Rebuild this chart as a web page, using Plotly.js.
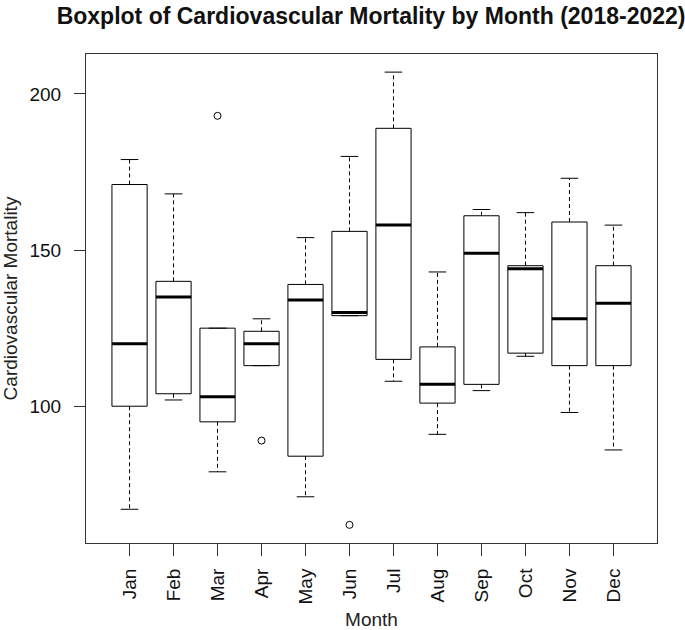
<!DOCTYPE html>
<html>
<head>
<meta charset="utf-8">
<script src="https://cdn.plot.ly/plotly-3.0.1.min.js"></script>
<style>html,body{margin:0;padding:0;background:#fff;}#chart{width:685px;height:630px;}</style>
</head>
<body>
<div id="chart"></div>
<script>
// Data
var months = ["Jan","Feb","Mar","Apr","May","Jun","Jul","Aug","Sep","Oct","Nov","Dec"];
var lowerWhisker = [67, 102, 79, 113, 71, 129, 108, 91, 105, 116, 98, 86];
var q1 =           [100, 104, 95, 113, 84, 129, 115, 101, 107, 117, 113, 113];
var median =       [120, 135, 103, 120, 134, 130, 158, 107, 149, 144, 128, 133];
var q3 =           [171, 140, 125, 124, 139, 156, 189, 119, 161, 145, 159, 145];
var upperWhisker = [179, 168, 125, 128, 154, 180, 207, 143, 163, 162, 173, 158];
var outlierMonth = ["Mar", "Apr", "Jun"];
var outlierValue = [193, 89, 62];

var pos = months.map(function(m, i){ return i + 1; });
var boxHalf = 0.4, stapleHalf = 0.2;
var font = "Liberation Sans, Arial, Helvetica, sans-serif";
var ink = "#000000";

var traces = [];
// boxes (without whiskers)
traces.push({
  type: "box",
  x: pos,
  q1: q1, median: median, q3: q3,
  lowerfence: q1, upperfence: q3,
  width: 2 * boxHalf,
  whiskerwidth: 0,
  fillcolor: "rgba(255,255,255,0)",
  line: {color: ink, width: 1},
  boxpoints: false,
  hoverinfo: "skip",
  showlegend: false
});

// dashed whiskers
var wx = [], wy = [];
pos.forEach(function(p, i){
  wx.push(p, p, null, p, p, null);
  wy.push(q3[i], upperWhisker[i], null, q1[i], lowerWhisker[i], null);
});
traces.push({
  type: "scatter", mode: "lines", x: wx, y: wy,
  line: {color: ink, width: 1, dash: "4px,3px"},
  hoverinfo: "skip", showlegend: false
});

// staples
var sx = [], sy = [];
pos.forEach(function(p, i){
  sx.push(p - stapleHalf, p + stapleHalf, null, p - stapleHalf, p + stapleHalf, null);
  sy.push(upperWhisker[i], upperWhisker[i], null, lowerWhisker[i], lowerWhisker[i], null);
});
traces.push({
  type: "scatter", mode: "lines", x: sx, y: sy,
  line: {color: ink, width: 1},
  hoverinfo: "skip", showlegend: false
});

// thick medians
var mx = [], my = [];
pos.forEach(function(p, i){
  mx.push(p - boxHalf, p + boxHalf, null);
  my.push(median[i], median[i], null);
});
traces.push({
  type: "scatter", mode: "lines", x: mx, y: my,
  line: {color: ink, width: 3},
  hoverinfo: "skip", showlegend: false
});

// outliers
traces.push({
  type: "scatter", mode: "markers",
  x: outlierMonth.map(function(m){ return months.indexOf(m) + 1; }),
  y: outlierValue,
  marker: {symbol: "circle-open", size: 7, color: ink, line: {width: 1, color: ink}},
  hoverinfo: "skip", showlegend: false
});

var layout = {
  width: 685, height: 630,
  margin: {l: 86, r: 28, t: 54, b: 87},
  paper_bgcolor: "#ffffff", plot_bgcolor: "#ffffff",
  font: {family: font, size: 19, color: "#111111"},
  showlegend: false,
  title: {
    text: "<b>Boxplot of Cardiovascular Mortality by Month (2018-2022)</b>",
    font: {family: font, size: 23, color: "#111111"},
    x: 0.5417, xanchor: "center", xref: "container",
    y: 1 - 16 / 630, yanchor: "middle", yref: "container"
  },
  xaxis: {
    range: [0.01, 12.99],
    tickmode: "array", tickvals: pos, ticktext: months,
    tickangle: -90,
    ticks: "outside", ticklen: 12, tickwidth: 1, tickcolor: "#333333",
    ticklabelstandoff: 5,
    showline: true, mirror: true, linecolor: "#333333", linewidth: 1,
    showgrid: false, zeroline: false,
    automargin: false,
    title: {text: "Month", standoff: 17, font: {family: font, size: 19, color: "#222222"}}
  },
  yaxis: {
    range: [56.2, 212.8],
    tickmode: "array", tickvals: [100, 150, 200],
    ticks: "outside", ticklen: 11, tickwidth: 1, tickcolor: "#333333",
    ticklabelstandoff: 9,
    showline: true, mirror: true, linecolor: "#333333", linewidth: 1,
    showgrid: false, zeroline: false,
    automargin: false,
    title: {text: "Cardiovascular Mortality", standoff: 12, font: {family: font, size: 19, color: "#222222"}}
  }
};

Plotly.newPlot("chart", traces, layout, {staticPlot: true, displayModeBar: false});
</script>
</body>
</html>
